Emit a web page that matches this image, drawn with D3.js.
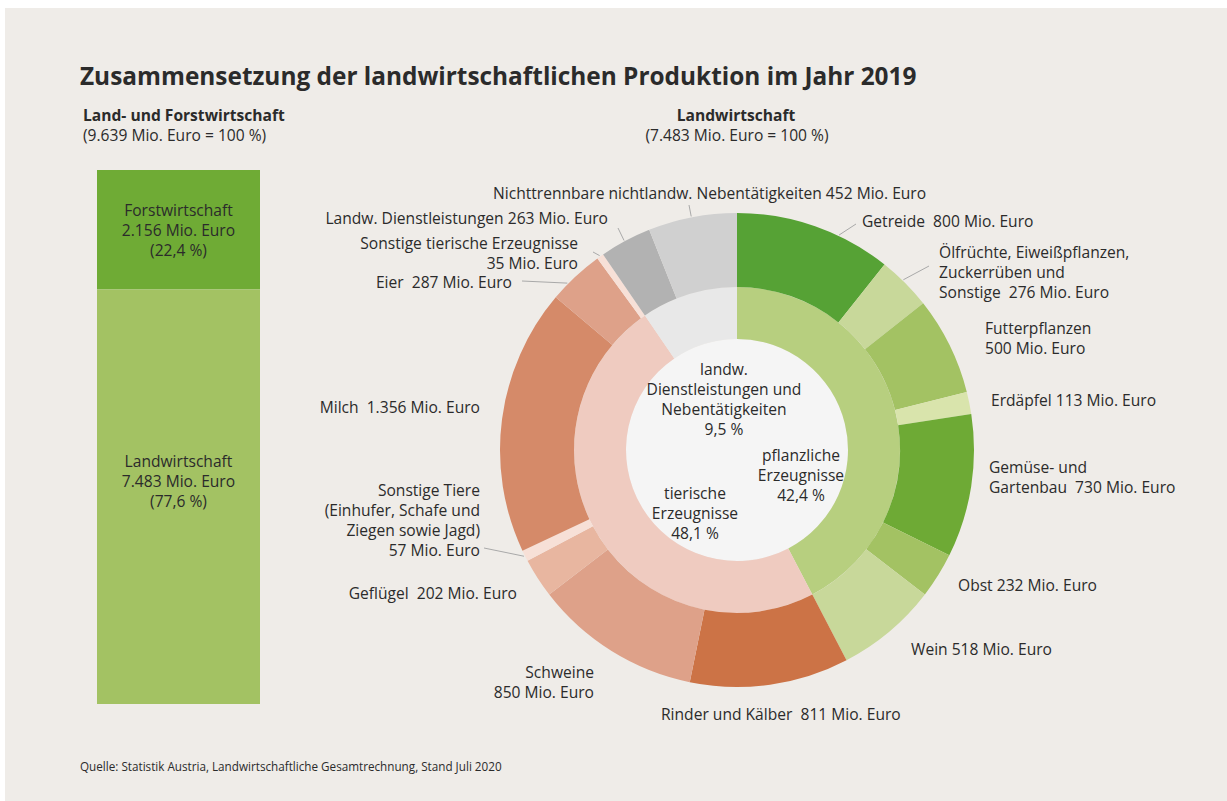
<!DOCTYPE html>
<html>
<head>
<meta charset="utf-8">
<script src="https://cdn.jsdelivr.net/npm/d3@7"></script>
<style>
    body { margin: 0; background: #ffffff; }
    svg text { font-family: 'Open Sans', Lato, sans-serif; fill: #2b2b2b; white-space: pre; }
</style>
</head>
<body>
<svg id="chart" width="1227" height="801"></svg>
<script>
// Land- und Forstwirtschaft (left bar)
const sectors = ['Forstwirtschaft', 'Landwirtschaft']
const sectorValues = [2156, 7483]
const sectorValueLabels = ['2.156 Mio. Euro', '7.483 Mio. Euro']
const sectorShares = ['(22,4 %)', '(77,6 %)']
const sectorColors = ['#6fab35', '#a3c263']

// Landwirtschaft: inner ring
const groups = ['pflanzliche Erzeugnisse', 'tierische Erzeugnisse', 'Dienstleistungen']
const groupLabels = [
    ['pflanzliche', 'Erzeugnisse', '42,4 %'],
    ['tierische', 'Erzeugnisse', '48,1 %'],
    ['landw.', 'Dienstleistungen und', 'Nebentätigkeiten', '9,5 %'],
]
const groupColors = ['#b7cf7f', '#efcbc0', '#e8e8e8']

// Landwirtschaft: outer ring (Mio. Euro)
const products = [
    'Getreide', 'Ölfrüchte', 'Futterpflanzen', 'Erdäpfel', 'Gemüse- und Gartenbau', 'Obst', 'Wein',
    'Rinder und Kälber', 'Schweine', 'Geflügel', 'Sonstige Tiere', 'Milch', 'Eier', 'Sonstige tierische Erzeugnisse',
    'Landw. Dienstleistungen', 'Nichttrennbare nichtlandw. Nebentätigkeiten',
]
const productGroup = [0, 0, 0, 0, 0, 0, 0, 1, 1, 1, 1, 1, 1, 1, 2, 2]
const productValues = [800, 276, 500, 113, 730, 232, 518, 811, 850, 202, 57, 1356, 287, 35, 263, 452]
const productLabels = [
    ['Getreide  800 Mio. Euro'],
    ['Ölfrüchte, Eiweißpflanzen,', 'Zuckerrüben und', 'Sonstige  276 Mio. Euro'],
    ['Futterpflanzen', '500 Mio. Euro'],
    ['Erdäpfel 113 Mio. Euro'],
    ['Gemüse- und', 'Gartenbau  730 Mio. Euro'],
    ['Obst 232 Mio. Euro'],
    ['Wein 518 Mio. Euro'],
    ['Rinder und Kälber  811 Mio. Euro'],
    ['Schweine', '850 Mio. Euro'],
    ['Geflügel  202 Mio. Euro'],
    ['Sonstige Tiere', '(Einhufer, Schafe und', 'Ziegen sowie Jagd)', '57 Mio. Euro'],
    ['Milch  1.356 Mio. Euro'],
    ['Eier  287 Mio. Euro'],
    ['Sonstige tierische Erzeugnisse', '35 Mio. Euro'],
    ['Landw. Dienstleistungen 263 Mio. Euro'],
    ['Nichttrennbare nichtlandw. Nebentätigkeiten 452 Mio. Euro'],
]
const productColors = [
    '#56a235', '#c8d89a', '#a3c263', '#d9e4ac', '#6eaa35', '#a3c263', '#c8d89a',
    '#cc7346', '#dea189', '#e8b6a0', '#f7e0d7', '#d58a69', '#dea189', '#f7e0d7',
    '#b2b2b2', '#d0d0d0',
]

// label layout: x, y of first line (middle), anchor, optional leader (text-side point + position inside slice)
const productLabelLayout = [
    { x: 862, y: 220, anchor: 'start', leader: [856, 224, 0.66] },
    { x: 939, y: 251, anchor: 'start', leader: [929, 266, 0.44] },
    { x: 985, y: 327, anchor: 'start' },
    { x: 991, y: 399, anchor: 'start' },
    { x: 989, y: 466, anchor: 'start' },
    { x: 958, y: 584, anchor: 'start' },
    { x: 911, y: 648, anchor: 'start' },
    { x: 661, y: 713, anchor: 'start' },
    { x: 594, y: 671, anchor: 'end' },
    { x: 517, y: 592, anchor: 'end' },
    { x: 480, y: 489, anchor: 'end', leader: [484, 548, 0.5] },
    { x: 480, y: 406, anchor: 'end' },
    { x: 512, y: 281, anchor: 'end', leader: [522, 281, 0.32] },
    { x: 578, y: 242, anchor: 'end', leader: [593, 252, 0.5] },
    { x: 608, y: 217, anchor: 'end', leader: [618, 228, 0.48] },
    { x: 493, y: 192, anchor: 'start', leader: [689, 205, 0.49] },
]
const groupLabelLayout = [
    { x: 801, y: 454 },
    { x: 695, y: 492 },
    { x: 724, y: 368 },
]

const LINE = 20
const FONT = 15.6
const svg = d3.select('#chart')

svg.append('rect')
    .attr('x', 5)
    .attr('y', 8)
    .attr('width', 1222)
    .attr('height', 793)
    .attr('fill', '#efece8')

svg.append('text')
    .attr('x', 80)
    .attr('y', 85)
    .attr('font-size', 24.4)
    .attr('font-weight', 700)
    .text('Zusammensetzung der landwirtschaftlichen Produktion im Jahr 2019')

const addLines = (g, lines, x, y, anchor) => {
    lines.forEach((line, i) => {
        g.append('text')
            .attr('x', x)
            .attr('y', y + i * LINE)
            .attr('dy', '0.42em')
            .attr('text-anchor', anchor)
            .attr('font-size', FONT)
            .text(line)
    })
}

// headings
const head = svg.append('g')
head.append('text').attr('x', 83).attr('y', 121).attr('font-size', FONT).attr('font-weight', 700)
    .text('Land- und Forstwirtschaft')
head.append('text').attr('x', 83).attr('y', 141).attr('font-size', FONT)
    .text('(9.639 Mio. Euro = 100 %)')
head.append('text').attr('x', 736).attr('y', 121).attr('font-size', FONT).attr('font-weight', 700)
    .attr('text-anchor', 'middle').text('Landwirtschaft')
head.append('text').attr('x', 737).attr('y', 141).attr('font-size', FONT)
    .attr('text-anchor', 'middle').text('(7.483 Mio. Euro = 100 %)')

// stacked bar
const total = d3.sum(sectorValues)
const yBar = d3.scaleLinear().domain([0, total]).range([170, 704])
const x0 = 97
const barW = 163
const barLabelShift = [0, -16]
const stacked = sectorValues.reduce((acc, v, i) => {
    const start = i ? acc[i - 1].end : 0
    acc.push({ start, end: start + v, i })
    return acc
}, [])

const bar = svg.append('g')
bar.selectAll('rect')
    .data(stacked)
    .join('rect')
    .attr('x', x0)
    .attr('y', (d) => yBar(d.start))
    .attr('width', barW)
    .attr('height', (d) => yBar(d.end) - yBar(d.start))
    .attr('fill', (d) => sectorColors[d.i])

stacked.forEach((d) => {
    const mid = (yBar(d.start) + yBar(d.end)) / 2 + barLabelShift[d.i]
    addLines(bar, [sectors[d.i], sectorValueLabels[d.i], sectorShares[d.i]], x0 + barW / 2, mid - LINE, 'middle')
})

// donut
const cx = 737
const cy = 450
const R_HOLE = 111
const R_MID = 163
const R_OUT = 237

const donut = svg.append('g').attr('transform', `translate(${cx},${cy})`)

const pie = d3.pie().sort(null).value((d) => d.value)

const groupData = groups.map((g, i) => ({
    name: g,
    i,
    value: d3.sum(productValues.filter((v, j) => productGroup[j] === i)),
}))
const productData = products.map((p, i) => ({ name: p, i, value: productValues[i] }))

const innerArc = d3.arc().innerRadius(R_HOLE).outerRadius(R_MID)
const outerArc = d3.arc().innerRadius(R_MID).outerRadius(R_OUT)

donut.append('circle').attr('r', R_HOLE).attr('fill', '#f5f5f5')

donut.selectAll('path.inner')
    .data(pie(groupData))
    .join('path')
    .attr('class', 'inner')
    .attr('d', innerArc)
    .attr('fill', (d) => groupColors[d.data.i])

const outerSlices = pie(productData)
donut.selectAll('path.outer')
    .data(outerSlices)
    .join('path')
    .attr('class', 'outer')
    .attr('d', outerArc)
    .attr('fill', (d) => productColors[d.data.i])

// group labels in the hole
groupLabels.forEach((lines, i) => {
    const l = groupLabelLayout[i]
    addLines(svg, lines, l.x, l.y, 'middle')
})

// product labels and leaders
const labels = svg.append('g')
outerSlices.forEach((s) => {
    const i = s.data.i
    const l = productLabelLayout[i]
    addLines(labels, productLabels[i], l.x, l.y, l.anchor)
    if (l.leader) {
        const a = s.startAngle + (s.endAngle - s.startAngle) * l.leader[2]
        labels.append('line')
            .attr('x1', l.leader[0])
            .attr('y1', l.leader[1])
            .attr('x2', cx + Math.sin(a) * (R_OUT + 1))
            .attr('y2', cy - Math.cos(a) * (R_OUT + 1))
            .attr('stroke', '#a9a9a9')
            .attr('stroke-width', 1)
    }
})

svg.append('text')
    .attr('x', 80)
    .attr('y', 771)
    .attr('font-size', 11.7)
    .text('Quelle: Statistik Austria, Landwirtschaftliche Gesamtrechnung, Stand Juli 2020')
</script>
</body>
</html>
